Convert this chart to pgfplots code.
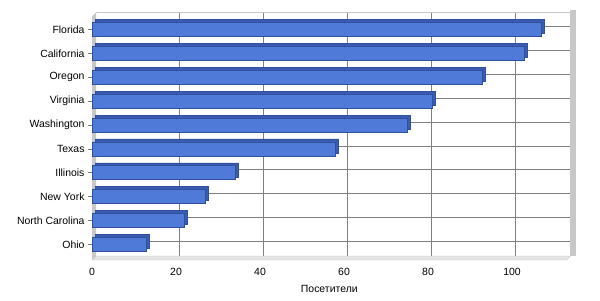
\documentclass[border=0pt]{standalone}
\usepackage{fontspec}
\setmainfont{Liberation Sans}
\usepackage{pgfplots}
\pgfplotsset{compat=1.18}
\definecolor{barface}{HTML}{4F7AD8}
\definecolor{baredge}{HTML}{2F4F9F}
\definecolor{barside}{HTML}{3A5BB2}
\definecolor{gridc}{HTML}{808080}
\definecolor{wallc}{HTML}{C8C8C8}
\definecolor{floorc}{HTML}{E4E4E4}
\begin{document}
\begin{tikzpicture}[x=1bp,y=1bp]
\useasboundingbox (0,0) rectangle (600,300);
\begin{axis}[
  at={(92bp,40bp)}, anchor=south west,
  scale only axis, width=474.6bp, height=243.7bp,
  xmin=0, xmax=113, ymin=-0.65, ymax=9.55,
  xtick={0,20,40,60,80,100},
  ytick={0,1,2,3,4,5,6,7,8,9},
  yticklabels={Ohio,North Carolina,New York,Illinois,Texas,Washington,Virginia,Oregon,California,Florida},
  xmajorgrids, ymajorgrids,
  grid style={gridc, line width=0.8bp, xshift=3bp, yshift=3bp},
  axis line style={draw=none},
  tick style={gridc, line width=0.6bp},
  major tick length=4bp,
  xtick pos=bottom, ytick pos=left,
  tick align=outside,
  x tick style={draw=none},
  ticklabel style={font=\fontsize{10.5}{12}\selectfont, text=black},
  /pgf/number format/assume math mode=true,
  xticklabel style={yshift=-1bp},
  xlabel={Посетители},
  xlabel style={font=\fontsize{10.5}{12}\selectfont, yshift=-3bp},
  xbar, bar width=14bp, bar shift=0pt,
  clip=false,
  axis on top=false,
]
% 3D box: left wall, floor, back frame
\fill[wallc] (rel axis cs:0,0) -- (rel axis cs:0,1) -- ([shift={(4bp,4bp)}]rel axis cs:0,1) -- ([shift={(4bp,4bp)}]rel axis cs:0,0) -- cycle;
\fill[floorc, draw=wallc] (rel axis cs:0,0) -- (rel axis cs:1,0) -- ([shift={(4bp,4bp)}]rel axis cs:1,0) -- ([shift={(4bp,4bp)}]rel axis cs:0,0) -- cycle;
\draw[wallc, line width=1.5bp] ([shift={(4bp,4bp)}]rel axis cs:0,1) -- ([shift={(4bp,4bp)}]rel axis cs:1,1);
\fill[wallc] ([shift={(3bp,4bp)}]rel axis cs:1,0) rectangle ([shift={(9bp,6bp)}]rel axis cs:1,1);
\addplot[fill=barside, draw=baredge, line width=0.5bp, xshift=3bp, yshift=3bp] coordinates {
(13,0) (22,1) (27,2) (34,3) (58,4) (75,5) (81,6) (93,7) (103,8) (107,9)};
\addplot[fill=barface, draw=baredge, line width=0.6bp] coordinates {
(13,0) (22,1) (27,2) (34,3) (58,4) (75,5) (81,6) (93,7) (103,8) (107,9)};
\end{axis}
\end{tikzpicture}
\end{document}
